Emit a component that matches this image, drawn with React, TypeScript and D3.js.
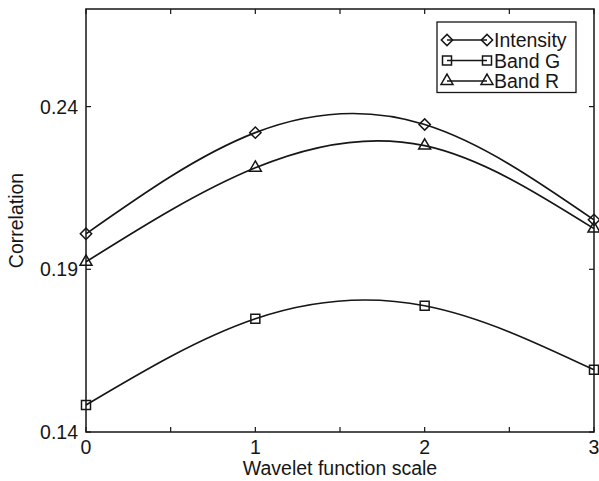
import React from 'react';
import * as d3 from 'd3';

// scale positions on the x axis
const scales = [0, 1, 2, 3];
// correlation values
const intensity = [0.2009, 0.232, 0.2345, 0.2052];
const bandG = [0.1483, 0.1748, 0.1788, 0.1591];
const bandR = [0.1923, 0.2212, 0.228, 0.2025];
const seriesNames = ['Intensity', 'Band G', 'Band R'];

const xTicks = [0, 0.5, 1, 1.5, 2, 2.5, 3];
const xTickLabels = ['0', '', '1', '', '2', '', '3'];
const yTicks = [0.14, 0.19, 0.24];
const yTickLabels = ['0.14', '0.19', '0.24'];

const W = 599;
const H = 481;
const margin = { top: 9, right: 5, bottom: 49, left: 86 };
const ink = '#161616';
const font = '"Liberation Sans", Arial, Helvetica, sans-serif';
const fs = 19.5;

const x = d3.scaleLinear().domain([0, 3]).range([margin.left, W - margin.right]);
const y = d3.scaleLinear().domain([0.14, 0.27]).range([H - margin.bottom, margin.top]);

const symbols = [
  { type: d3.symbolSquare, size: 64, rotate: 45 },
  { type: d3.symbolSquare, size: 81, rotate: 0 },
  { type: d3.symbolTriangle, size: 62, rotate: 0 },
];

const Marker = ({ cx, cy, idx }: { cx: number; cy: number; idx: number }) => {
  const s = symbols[idx];
  const d = d3.symbol().type(s.type).size(s.size)() as string;
  return (
    <path
      d={d}
      transform={`translate(${cx},${cy}) rotate(${s.rotate})`}
      fill="none"
      stroke={ink}
      strokeWidth={1.5}
    />
  );
};

const App = () => {
  const all = [intensity, bandG, bandR];
  const line = d3
    .line<number>()
    .x((_, i) => x(scales[i]))
    .y(d => y(d))
    .curve(d3.curveNatural);

  const x0 = x.range()[0];
  const x1 = x.range()[1];
  const y0 = y.range()[0];
  const y1 = y.range()[1];
  const tl = 5;

  // legend box
  const lg = { x: 437, y: 22, w: 139, rowH: 20.5 };

  return (
    <svg
      width={W}
      height={H}
      style={{ position: 'absolute', left: 0, top: 0, background: '#fff' }}
      fontFamily={font}
    >
      {/* ticks on all four sides, pointing inward */}
      {xTicks.map((t, i) => (
        <g key={'xt' + i}>
          <line x1={x(t)} x2={x(t)} y1={y0} y2={y0 - tl} stroke={ink} strokeWidth={1.2} />
          <line x1={x(t)} x2={x(t)} y1={y1} y2={y1 + tl} stroke={ink} strokeWidth={1.2} />
          <text x={x(t)} y={y0 + 22} textAnchor="middle" fontSize={fs} fill={ink}>
            {xTickLabels[i]}
          </text>
        </g>
      ))}
      {yTicks.map((t, i) => (
        <g key={'yt' + i}>
          <line x1={x0} x2={x0 + tl} y1={y(t)} y2={y(t)} stroke={ink} strokeWidth={1.2} />
          <line x1={x1} x2={x1 - tl} y1={y(t)} y2={y(t)} stroke={ink} strokeWidth={1.2} />
          <text x={x0 - 8} y={y(t)} dy="0.36em" textAnchor="end" fontSize={fs} fill={ink}>
            {yTickLabels[i]}
          </text>
        </g>
      ))}

      {/* series */}
      {all.map((vals, si) => (
        <g key={'s' + si}>
          <path d={line(vals) as string} fill="none" stroke={ink} strokeWidth={1.7} />
          {vals.map((v, i) => (
            <Marker key={i} cx={x(scales[i])} cy={y(v)} idx={si} />
          ))}
        </g>
      ))}

      {/* axes box */}
      <rect x={x0} y={y1} width={x1 - x0} height={y0 - y1} fill="none" stroke={ink} strokeWidth={1.5} />

      {/* legend */}
      <rect
        x={lg.x}
        y={lg.y}
        width={lg.w}
        height={lg.rowH * 3 + 9}
        fill="#fff"
        stroke={ink}
        strokeWidth={1.3}
      />
      {seriesNames.map((name, i) => {
        const cy = lg.y + 18 + i * lg.rowH;
        return (
          <g key={name}>
            <line x1={lg.x + 10} x2={lg.x + 50} y1={cy} y2={cy} stroke={ink} strokeWidth={1.4} />
            <Marker cx={lg.x + 10} cy={cy} idx={i} />
            <Marker cx={lg.x + 50} cy={cy} idx={i} />
            <text x={lg.x + 57} y={cy} dy="0.36em" fontSize={fs} fill={ink}>
              {name}
            </text>
          </g>
        );
      })}

      {/* axis titles */}
      <text x={(x0 + x1) / 2} y={H - 6} textAnchor="middle" fontSize={fs} fill={ink}>
        Wavelet function scale
      </text>
      <text
        transform={`translate(23,${(y0 + y1) / 2}) rotate(-90)`}
        textAnchor="middle"
        fontSize={fs}
        fill={ink}
      >
        Correlation
      </text>
    </svg>
  );
};

export default App;
